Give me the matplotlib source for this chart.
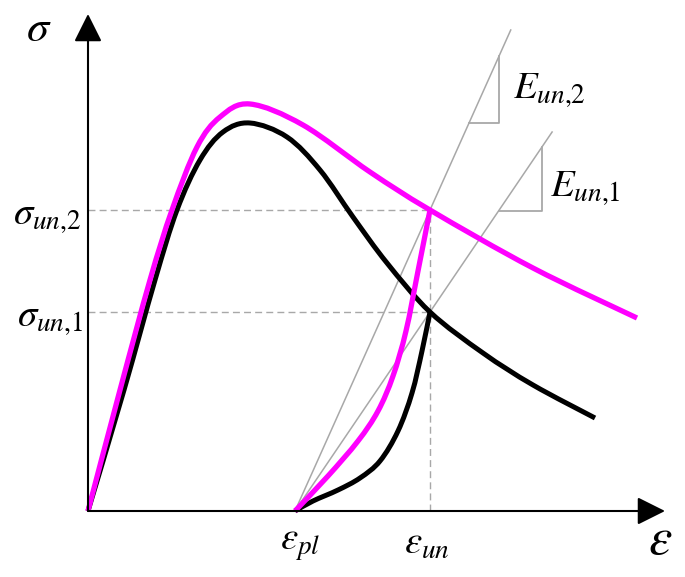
import matplotlib
matplotlib.use("Agg")
import matplotlib.pyplot as plt
from matplotlib.path import Path
from matplotlib.patches import PathPatch
import numpy as np

plt.rcParams['mathtext.fontset'] = 'stix'
plt.rcParams['font.family'] = ['STIXGeneral', 'DejaVu Serif']

# ---- data (schematic units) ----
env2_eps = [0, 32, 62, 84, 109, 132, 162, 215, 282, 342, 445, 549]
env2_sig = [0, 121, 231, 301, 364, 394, 407, 386, 339, 301, 243, 193]

env1_eps = [0, 36, 67, 89, 112, 135, 162, 199, 232, 265, 299, 342, 395, 445, 507]
env1_sig = [0, 121, 231, 301, 351, 379, 388, 374, 341, 294, 248, 199, 158, 126, 93]

rel2_eps = [207, 240, 270, 290, 305, 318, 330, 342]
rel2_sig = [0, 35, 70, 100, 135, 180, 240, 301]

rel1_eps = [207, 225, 250, 272, 292, 310, 324, 334, 342]
rel1_sig = [0, 10, 21, 33, 50, 80, 118, 160, 199]

eps_pl = 207
eps_un = 342
sig_un1 = 199
sig_un2 = 301

fig = plt.figure(figsize=(6.85, 5.77), dpi=100)
ax = fig.add_axes([0, 0, 1, 1])
ax.set_xlim(-88, 597)
ax.set_ylim(-66, 511)
ax.axis('off')

gray = '#A8A8A8'


def smooth_curve(xs, ys, color, lw, z):
    """Draw a smooth Catmull-Rom (cubic Bezier) path through the given points."""
    P = np.column_stack([xs, ys]).astype(float)
    verts = [P[0]]
    codes = [Path.MOVETO]
    n = len(P)
    for i in range(n - 1):
        p0 = P[i - 1] if i > 0 else P[i]
        p1, p2 = P[i], P[i + 1]
        p3 = P[i + 2] if i + 2 < n else P[i + 1]
        c1 = p1 + (p2 - p0) / 6.0
        c2 = p2 - (p3 - p1) / 6.0
        verts += [c1, c2, p2]
        codes += [Path.CURVE4] * 3
    ax.add_patch(PathPatch(Path(verts, codes), fill=False, edgecolor=color,
                           lw=lw, capstyle='butt', joinstyle='round', zorder=z))


# dashed guide lines
ds = (0, (5, 3))
ax.plot([0, eps_un], [sig_un2, sig_un2], color=gray, lw=1.0, ls=ds, zorder=1)
ax.plot([0, eps_un], [sig_un1, sig_un1], color=gray, lw=1.0, ls=ds, zorder=1)
ax.plot([eps_un, eps_un], [0, sig_un2], color=gray, lw=1.0, ls=ds, zorder=1)

# unloading modulus lines
k2 = sig_un2 / (eps_un - eps_pl)
k1 = sig_un1 / (eps_un - eps_pl)
top2, top1 = 481, 379
ax.plot([eps_pl, eps_pl + top2 / k2], [0, top2], color=gray, lw=1.1, zorder=2)
ax.plot([eps_pl, eps_pl + top1 / k1], [0, top1], color=gray, lw=1.1, zorder=2)


# slope triangles
def tri(k, y0, x1):
    x0 = eps_pl + y0 / k
    y1 = (x1 - eps_pl) * k
    ax.plot([x0, x1, x1], [y0, y0, y1], color=gray, lw=1.3, zorder=2)


tri(k2, 388, 411)
tri(k1, 300, 454)

# curves
smooth_curve(env1_eps, env1_sig, 'black', 3.6, 3)
smooth_curve(rel1_eps, rel1_sig, 'black', 3.6, 3)
smooth_curve(env2_eps, env2_sig, '#FF00FF', 3.8, 4)
smooth_curve(rel2_eps, rel2_sig, '#FF00FF', 3.8, 4)

# axes with arrows
ap = dict(arrowstyle='-|>,head_length=0.86,head_width=0.43', lw=1.5,
          color='black', shrinkA=0, shrinkB=0, mutation_scale=20)
ax.annotate('', xy=(0, 497), xytext=(0, 0), arrowprops=ap, zorder=5)
ax.annotate('', xy=(577, 0), xytext=(0, 0), arrowprops=ap, zorder=5)

fs = 28
ax.text(-49, 480, r'$\sigma$', fontsize=32, ha='center', va='center')
ax.text(-7, 293, r'$\sigma_{un{,}2}$', fontsize=fs, ha='right', va='center')
ax.text(-5, 191, r'$\sigma_{un{,}1}$', fontsize=fs, ha='right', va='center')
ax.text(212, -35, r'$\varepsilon_{pl}$', fontsize=fs, ha='center', va='center')
ax.text(339, -34, r'$\varepsilon_{un}$', fontsize=fs, ha='center', va='center')
ax.text(572, -30, r'$\varepsilon$', fontsize=38, ha='center', va='center')
ax.text(425, 421, r'$E_{un{,}2}$', fontsize=fs, ha='left', va='center')
ax.text(462, 323, r'$E_{un{,}1}$', fontsize=fs, ha='left', va='center')

fig.savefig('out.png', dpi=100)
